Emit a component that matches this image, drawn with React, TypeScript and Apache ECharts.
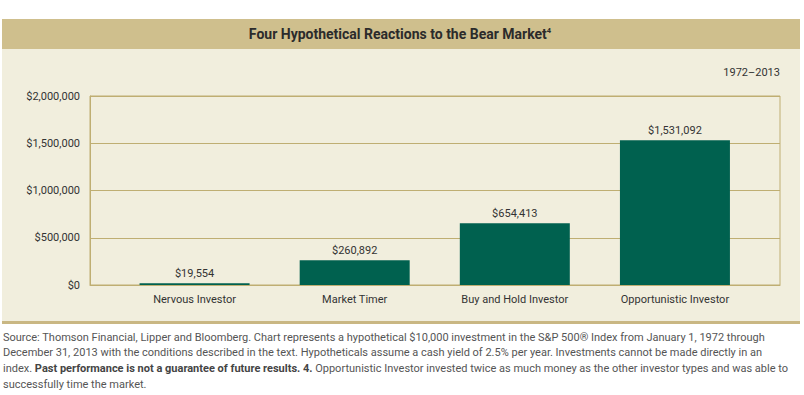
import React, { useEffect, useRef } from "react";
import * as echarts from "echarts";

const categories = ["Nervous Investor", "Market Timer", "Buy and Hold Investor", "Opportunistic Investor"];
const values = [19554, 260892, 654413, 1531092];
const yTicks = [0, 500000, 1000000, 1500000, 2000000];
const titleText = "Four Hypothetical Reactions to the Bear Market";
const periodText = "1972–2013";
const footLines = [
  "Source: Thomson Financial, Lipper and Bloomberg. Chart represents a hypothetical $10,000 investment in the S&P 500® Index from January 1, 1972 through",
  "December 31, 2013 with the conditions described in the text. Hypotheticals assume a cash yield of 2.5% per year. Investments cannot be made directly in an",
  "{n|index. }{b|Past performance is not a guarantee of future results. 4.}{n| Opportunistic Investor invested twice as much money as the other investor types and was able to}",
  "successfully time the market.",
];

const fmt = (v: number) => "$" + v.toLocaleString("en-US");

export default function App() {
  const ref = useRef<HTMLDivElement>(null);
  useEffect(() => {
    document.body.style.margin = "0";
    const chart = echarts.init(ref.current!, null, { renderer: "svg" });
    const font = "Roboto, 'Liberation Sans', sans-serif";
    const tan = "#cfbf8d";
    const grid = "#bfae72";
    const yBase = {
      type: "value",
      min: yTicks[0],
      max: yTicks[yTicks.length - 1],
      interval: yTicks[1] - yTicks[0],
      axisTick: { show: false },
    };
    chart.setOption({
      animation: false,
      textStyle: { fontFamily: font },
      graphic: [
        { type: "rect", shape: { x: 2, y: 49, width: 798, height: 274 }, style: { fill: "#f1eedd" }, z: -10 },
        { type: "rect", shape: { x: 2, y: 19, width: 798, height: 30 }, style: { fill: tan }, z: -9 },
        { type: "rect", shape: { x: 2, y: 321, width: 798, height: 3 }, style: { fill: "#c9b783" }, z: -9 },
        {
          type: "text", x: 400, y: 34,
          style: {
            text: "{t|" + titleText + "}{s|4}",
            rich: {
              t: { fontSize: 14, fontWeight: "bold", fill: "#2b2b2b", fontFamily: font },
              s: { fontSize: 7.5, fontWeight: "bold", fill: "#2b2b2b", fontFamily: font, verticalAlign: "top", padding: [0, 0, 7, 0] },
            },
            align: "center", verticalAlign: "middle",
          },
        },
        {
          type: "text", x: 780, y: 72,
          style: { text: periodText, fontSize: 11, fill: "#333", fontFamily: font, align: "right", verticalAlign: "middle" },
        },
        ...footLines.map((line, i) => ({
          type: "text", x: 3, y: 337 + i * 15.7,
          style: {
            text: line.startsWith("{") ? line : "{n|" + line + "}",
            rich: {
              n: { fontSize: 11, fill: "#555", fontFamily: font },
              b: { fontSize: 11, fill: "#444", fontWeight: "bold", fontFamily: font },
            },
            verticalAlign: "middle",
          },
        })),
      ],
      grid: [
        { left: 90, right: 24, top: 96, bottom: 110, show: true, borderColor: grid, borderWidth: 1, backgroundColor: "transparent" },
        { left: 114.5, right: 49, top: 96, bottom: 110 },
      ],
      xAxis: [
        {
          type: "category", gridIndex: 0, data: [""],
          axisLine: { show: true, lineStyle: { color: grid } },
          axisTick: { show: false }, axisLabel: { show: false },
        },
        {
          type: "category", gridIndex: 1, data: categories,
          axisLine: { show: false },
          axisTick: { show: false },
          axisLabel: { color: "#333", fontSize: 11, margin: 9, fontFamily: font },
        },
      ],
      yAxis: [
        {
          ...yBase, gridIndex: 0,
          axisLine: { show: true, lineStyle: { color: grid } },
          splitLine: { lineStyle: { color: grid, width: 1 } },
          axisLabel: { color: "#333", fontSize: 11, margin: 10, formatter: (v: number) => fmt(v), fontFamily: font },
        },
        {
          ...yBase, gridIndex: 1,
          axisLine: { show: false }, splitLine: { show: false }, axisLabel: { show: false },
        },
      ],
      series: [
        {
          type: "bar",
          xAxisIndex: 1, yAxisIndex: 1,
          data: values,
          barWidth: 110,
          itemStyle: { color: "#00614f" },
          label: { show: true, position: "top", formatter: (p: any) => fmt(p.value), color: "#333", fontSize: 11, distance: 4, fontFamily: font },
        },
      ],
    });
    return () => chart.dispose();
  }, []);
  return <div ref={ref} style={{ width: 804, height: 395 }} />;
}
